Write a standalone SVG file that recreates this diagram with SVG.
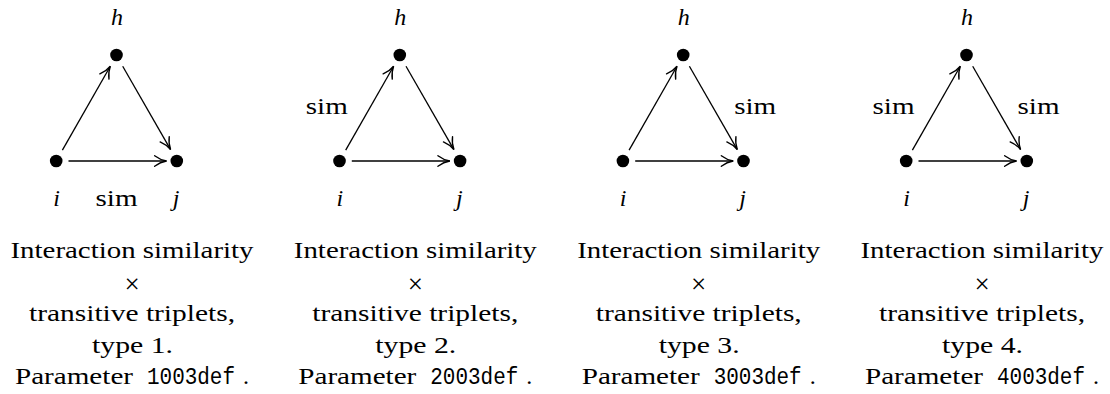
<svg xmlns="http://www.w3.org/2000/svg" width="1110" height="394" viewBox="0 0 1110 394">
<defs>
<marker id="arr" markerUnits="userSpaceOnUse" markerWidth="20" markerHeight="20" refX="0" refY="0" viewBox="-12 -8 14 16" orient="auto" overflow="visible">
<path d="M-9.5,-4.2 C-6,-1.6 -2.5,-0.4 0,0 C-2.5,0.4 -6,1.6 -9.5,4.2" fill="none" stroke="#000" stroke-width="1.1" stroke-linecap="round"/>
</marker>
</defs>
<style>
.bg{fill:#fff}
.dot{fill:#000}
.edge{stroke:#000;stroke-width:1.3;fill:none;marker-end:url(#arr)}
text{font-family:"Liberation Serif","Times New Roman","DejaVu Serif",serif;font-size:24px;fill:#000}
.lab{font-style:italic;text-anchor:middle}
.sim{text-anchor:middle}
.cap{text-anchor:middle}
.mono{font-family:"Liberation Mono","Courier New","DejaVu Sans Mono",monospace;font-size:23px}
.times{font-size:27px;text-anchor:middle}
</style>
<rect class="bg" x="0" y="0" width="1110" height="394"/>

<g id="panel1">
  <g id="p1-edges">
    <line class="edge" x1="62.4" y1="150.1" x2="110.3" y2="66.2"/>
    <line class="edge" x1="122.7" y1="66.2" x2="170.6" y2="149.6"/>
    <line class="edge" x1="68.5" y1="161" x2="166.5" y2="161"/>
  </g>
  <g id="p1-h"><circle class="dot" cx="116.5" cy="55" r="6.3"/><text class="lab" x="117" y="25">h</text></g>
  <g id="p1-i"><circle class="dot" cx="56.2" cy="161" r="6.3"/><text class="lab" x="56.5" y="206">i</text></g>
  <g id="p1-j"><circle class="dot" cx="176.8" cy="161" r="6.3"/><text class="lab" x="176" y="206">j</text></g>
  <text class="sim" x="116.5" y="206" textLength="42" lengthAdjust="spacingAndGlyphs">sim</text>
  <g id="p1-caption">
    <text class="cap" x="132" y="258" textLength="243" lengthAdjust="spacingAndGlyphs">Interaction similarity</text>
    <text class="times" x="132" y="293">×</text>
    <text class="cap" x="132" y="320.5" textLength="206" lengthAdjust="spacingAndGlyphs">transitive triplets,</text>
    <text class="cap" x="132.5" y="352.5" textLength="81" lengthAdjust="spacingAndGlyphs">type 1.</text>
    <text x="15" y="384" textLength="118" lengthAdjust="spacingAndGlyphs">Parameter</text>
    <text class="mono" x="147" y="384" textLength="88" lengthAdjust="spacingAndGlyphs">1003def</text>
    <text x="243" y="384">.</text>
  </g>
</g>

<g id="panel2" transform="translate(283.3,0)">
  <g id="p2-edges">
    <line class="edge" x1="62.4" y1="150.1" x2="110.3" y2="66.2"/>
    <line class="edge" x1="122.7" y1="66.2" x2="170.6" y2="149.6"/>
    <line class="edge" x1="68.5" y1="161" x2="166.5" y2="161"/>
  </g>
  <g id="p2-h"><circle class="dot" cx="116.5" cy="55" r="6.3"/><text class="lab" x="117" y="25">h</text></g>
  <g id="p2-i"><circle class="dot" cx="56.2" cy="161" r="6.3"/><text class="lab" x="56.5" y="206">i</text></g>
  <g id="p2-j"><circle class="dot" cx="176.8" cy="161" r="6.3"/><text class="lab" x="176" y="206">j</text></g>
  <text class="sim" x="43.5" y="114" textLength="42" lengthAdjust="spacingAndGlyphs">sim</text>
  <g id="p2-caption">
    <text class="cap" x="132" y="258" textLength="243" lengthAdjust="spacingAndGlyphs">Interaction similarity</text>
    <text class="times" x="132" y="293">×</text>
    <text class="cap" x="132" y="320.5" textLength="206" lengthAdjust="spacingAndGlyphs">transitive triplets,</text>
    <text class="cap" x="132.5" y="352.5" textLength="81" lengthAdjust="spacingAndGlyphs">type 2.</text>
    <text x="15" y="384" textLength="118" lengthAdjust="spacingAndGlyphs">Parameter</text>
    <text class="mono" x="147" y="384" textLength="88" lengthAdjust="spacingAndGlyphs">2003def</text>
    <text x="243" y="384">.</text>
  </g>
</g>

<g id="panel3" transform="translate(566.7,0)">
  <g id="p3-edges">
    <line class="edge" x1="62.4" y1="150.1" x2="110.3" y2="66.2"/>
    <line class="edge" x1="122.7" y1="66.2" x2="170.6" y2="149.6"/>
    <line class="edge" x1="68.5" y1="161" x2="166.5" y2="161"/>
  </g>
  <g id="p3-h"><circle class="dot" cx="116.5" cy="55" r="6.3"/><text class="lab" x="117" y="25">h</text></g>
  <g id="p3-i"><circle class="dot" cx="56.2" cy="161" r="6.3"/><text class="lab" x="56.5" y="206">i</text></g>
  <g id="p3-j"><circle class="dot" cx="176.8" cy="161" r="6.3"/><text class="lab" x="176" y="206">j</text></g>
  <text class="sim" x="188.5" y="114" textLength="42" lengthAdjust="spacingAndGlyphs">sim</text>
  <g id="p3-caption">
    <text class="cap" x="132" y="258" textLength="243" lengthAdjust="spacingAndGlyphs">Interaction similarity</text>
    <text class="times" x="132" y="293">×</text>
    <text class="cap" x="132" y="320.5" textLength="206" lengthAdjust="spacingAndGlyphs">transitive triplets,</text>
    <text class="cap" x="132.5" y="352.5" textLength="81" lengthAdjust="spacingAndGlyphs">type 3.</text>
    <text x="15" y="384" textLength="118" lengthAdjust="spacingAndGlyphs">Parameter</text>
    <text class="mono" x="147" y="384" textLength="88" lengthAdjust="spacingAndGlyphs">3003def</text>
    <text x="243" y="384">.</text>
  </g>
</g>

<g id="panel4" transform="translate(850,0)">
  <g id="p4-edges">
    <line class="edge" x1="62.4" y1="150.1" x2="110.3" y2="66.2"/>
    <line class="edge" x1="122.7" y1="66.2" x2="170.6" y2="149.6"/>
    <line class="edge" x1="68.5" y1="161" x2="166.5" y2="161"/>
  </g>
  <g id="p4-h"><circle class="dot" cx="116.5" cy="55" r="6.3"/><text class="lab" x="117" y="25">h</text></g>
  <g id="p4-i"><circle class="dot" cx="56.2" cy="161" r="6.3"/><text class="lab" x="56.5" y="206">i</text></g>
  <g id="p4-j"><circle class="dot" cx="176.8" cy="161" r="6.3"/><text class="lab" x="176" y="206">j</text></g>
  <text class="sim" x="43.5" y="114" textLength="42" lengthAdjust="spacingAndGlyphs">sim</text>
  <text class="sim" x="188.5" y="114" textLength="42" lengthAdjust="spacingAndGlyphs">sim</text>
  <g id="p4-caption">
    <text class="cap" x="132" y="258" textLength="243" lengthAdjust="spacingAndGlyphs">Interaction similarity</text>
    <text class="times" x="132" y="293">×</text>
    <text class="cap" x="132" y="320.5" textLength="206" lengthAdjust="spacingAndGlyphs">transitive triplets,</text>
    <text class="cap" x="132.5" y="352.5" textLength="81" lengthAdjust="spacingAndGlyphs">type 4.</text>
    <text x="15" y="384" textLength="118" lengthAdjust="spacingAndGlyphs">Parameter</text>
    <text class="mono" x="147" y="384" textLength="88" lengthAdjust="spacingAndGlyphs">4003def</text>
    <text x="243" y="384">.</text>
  </g>
</g>
</svg>
